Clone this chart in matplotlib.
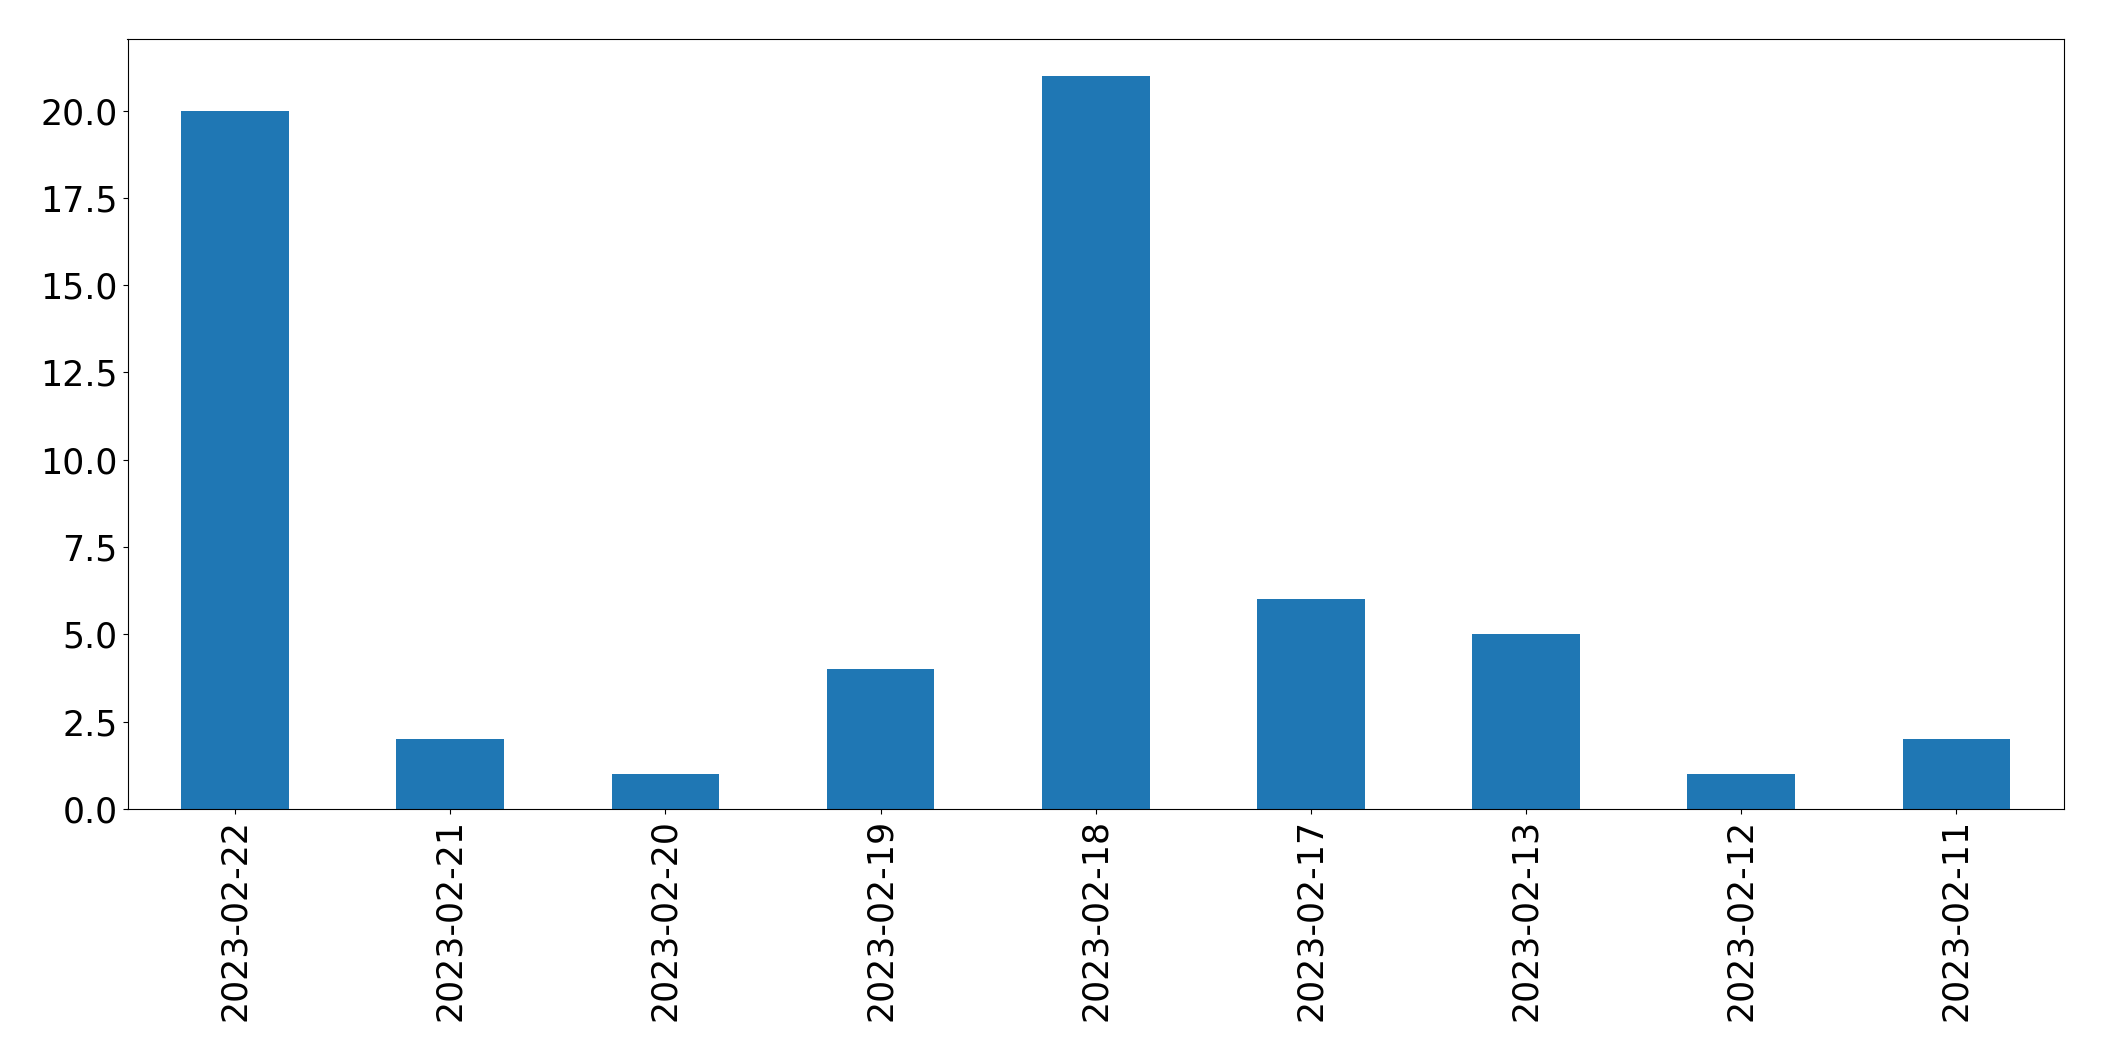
import matplotlib
matplotlib.use("Agg")
import matplotlib.pyplot as plt
import numpy as np

# Data
dates = ['2023-02-22', '2023-02-21', '2023-02-20', '2023-02-19', '2023-02-18',
         '2023-02-17', '2023-02-13', '2023-02-12', '2023-02-11']
counts = [20, 2, 1, 4, 21, 6, 5, 1, 2]

fig = plt.figure(figsize=(21.04, 10.61), dpi=100)
ax = fig.add_axes([127.5 / 2104, 1 - 809 / 1061, (2064 - 127.5) / 2104, (809 - 39) / 1061])

x = np.arange(len(dates))
ax.bar(x, counts, width=0.5, color='#1f77b4')
ax.set_xlim(-0.5, len(dates) - 0.5)
ax.set_ylim(0, max(counts) * 1.05)
ax.set_xticks(x)
ax.set_xticklabels(dates, rotation=90)
ax.tick_params(axis='both', labelsize=25)

fig.savefig('out.png', dpi=100)
